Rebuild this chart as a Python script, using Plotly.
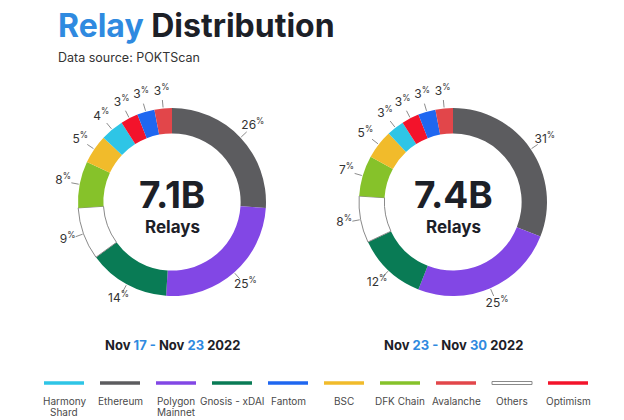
import plotly.graph_objects as go

chains = ["Ethereum", "Polygon Mainnet", "Gnosis - xDAI", "Others", "DFK Chain",
          "BSC", "Harmony Shard", "Optimism", "Fantom", "Avalanche"]
week1_pct = [26, 25, 14, 9, 8, 5, 4, 3, 3, 3]
week2_pct = [31, 25, 12, 8, 7, 5, 3, 3, 3, 3]
totals = ["7.1B", "7.4B"]
periods = [("17", "23"), ("23", "30")]

legend_order = ["Harmony Shard", "Ethereum", "Polygon Mainnet", "Gnosis - xDAI", "Fantom",
                "BSC", "DFK Chain", "Avalanche", "Others", "Optimism"]
legend_text = [["Harmony", "Shard"], ["Ethereum"], ["Polygon", "Mainnet"], ["Gnosis - xDAI"], ["Fantom"],
               ["BSC"], ["DFK Chain"], ["Avalanche"], ["Others"], ["Optimism"]]

colors = {
    "Ethereum": "#5c5c5f",
    "Polygon Mainnet": "#8247e5",
    "Gnosis - xDAI": "#097b55",
    "Others": "#ffffff",
    "DFK Chain": "#86c22a",
    "BSC": "#f1bb2b",
    "Harmony Shard": "#2ec5e6",
    "Optimism": "#f3132b",
    "Fantom": "#1f67f0",
    "Avalanche": "#e2464a",
}

BLUE = "#2f8ae0"
DARK = "#1c2027"
FONT = "Inter"
W, H = 624, 420

# donut geometry (pixels)
centers_x = [172, 453]
center_y = 202
ring_r = 94
polar_r = ring_r * 1.3  # polar overlay used for the percentage labels


def px_domain(cx, cy, r):
    return dict(x=[(cx - r) / W, (cx + r) / W], y=[1 - (cy + r) / H, 1 - (cy - r) / H])


fig = go.Figure()

for k, (vals, cx) in enumerate(zip([week1_pct, week2_pct], centers_x)):
    fig.add_trace(go.Pie(
        labels=chains, values=vals, sort=False, direction="clockwise", rotation=0,
        hole=0.73, domain=px_domain(cx, center_y, ring_r), textinfo="none",
        marker=dict(colors=[colors[c] for c in chains],
                    line=dict(color=["#8a8a8a" if c == "Others" else "rgba(0,0,0,0)" for c in chains],
                              width=[1 if c == "Others" else 0 for c in chains])),
        showlegend=False, hoverinfo="label+value",
    ))

    # mid angle of every slice, clockwise from 12 o'clock
    total = sum(vals)
    mids, cum = [], 0
    for v in vals:
        mids.append((cum + v / 2) / total * 360)
        cum += v

    lr, lt = [], []
    for m in mids:
        lr += [1.01, 1.09, None]
        lt += [m, m, None]
    sub = "polar" if k == 0 else "polar2"
    fig.add_trace(go.Scatterpolar(r=lr, theta=lt, mode="lines", subplot=sub,
                                  line=dict(color="#8c8c8c", width=1),
                                  hoverinfo="skip", showlegend=False))
    fig.add_trace(go.Scatterpolar(r=[1.18] * len(vals), theta=mids, mode="text", subplot=sub,
                                  text=[f"{v}<sup>%</sup>" for v in vals],
                                  textfont=dict(family=FONT, size=12, color="#333333"),
                                  cliponaxis=False, hoverinfo="skip", showlegend=False))

polar_style = dict(
    bgcolor="rgba(0,0,0,0)",
    radialaxis=dict(range=[0, 1.3], visible=False),
    angularaxis=dict(rotation=90, direction="clockwise", visible=False),
)

annotations = [
    dict(text=f"<b><span style='color:{BLUE}'>Relay</span> Distribution</b>",
         x=56, y=25, xref="x", yref="y", showarrow=False, xanchor="left",
         font=dict(family=FONT, size=32, color=DARK)),
    dict(text="Data source: POKTScan", x=56, y=57, xref="x", yref="y", showarrow=False,
         xanchor="left", font=dict(family=FONT, size=12.5, color="#333333")),
]

for cx, tot, (a, b) in zip(centers_x, totals, periods):
    annotations.append(dict(text=f"<b>{tot}</b>", x=cx, y=194, xref="x", yref="y", showarrow=False,
                            font=dict(family=FONT, size=37, color=DARK)))
    annotations.append(dict(text="<b>Relays</b>", x=cx, y=227, xref="x", yref="y", showarrow=False,
                            font=dict(family=FONT, size=17, color=DARK)))
    annotations.append(dict(
        text=(f"<b>Nov <span style='color:{BLUE}'>{a} -</span> Nov "
              f"<span style='color:{BLUE}'>{b}</span> 2022</b>"),
        x=cx, y=345, xref="x", yref="y", showarrow=False,
        font=dict(family=FONT, size=13, color=DARK)))

shapes = []
leg_x0 = 64
leg_step = 56
for i, (name, lines) in enumerate(zip(legend_order, legend_text)):
    lx = leg_x0 + i * leg_step
    if name == "Others":
        shapes.append(dict(type="rect", x0=lx - 20, x1=lx + 20, y0=381.5, y1=384.5, xref="x", yref="y",
                           line=dict(color="#8a8a8a", width=1), fillcolor="white"))
    else:
        shapes.append(dict(type="line", x0=lx - 20, x1=lx + 20, y0=383, y1=383, xref="x", yref="y",
                           line=dict(color=colors[name], width=3.5)))
    for j, line in enumerate(lines):
        annotations.append(dict(text=line, x=lx, y=401 + j * 10.5, xref="x", yref="y", showarrow=False,
                                font=dict(family=FONT, size=10, color="#4a4a4a")))

fig.update_layout(
    width=W, height=H, margin=dict(l=0, r=0, t=0, b=0),
    paper_bgcolor="white", plot_bgcolor="white",
    xaxis=dict(range=[0, W], visible=False, fixedrange=True),
    yaxis=dict(range=[H, 0], visible=False, fixedrange=True),
    polar=dict(domain=px_domain(centers_x[0], center_y, polar_r), **polar_style),
    polar2=dict(domain=px_domain(centers_x[1], center_y, polar_r), **polar_style),
    annotations=annotations, shapes=shapes,
)

fig.write_html("out.html", config={"displayModeBar": False},
               post_script="document.body.style.margin='0';")
